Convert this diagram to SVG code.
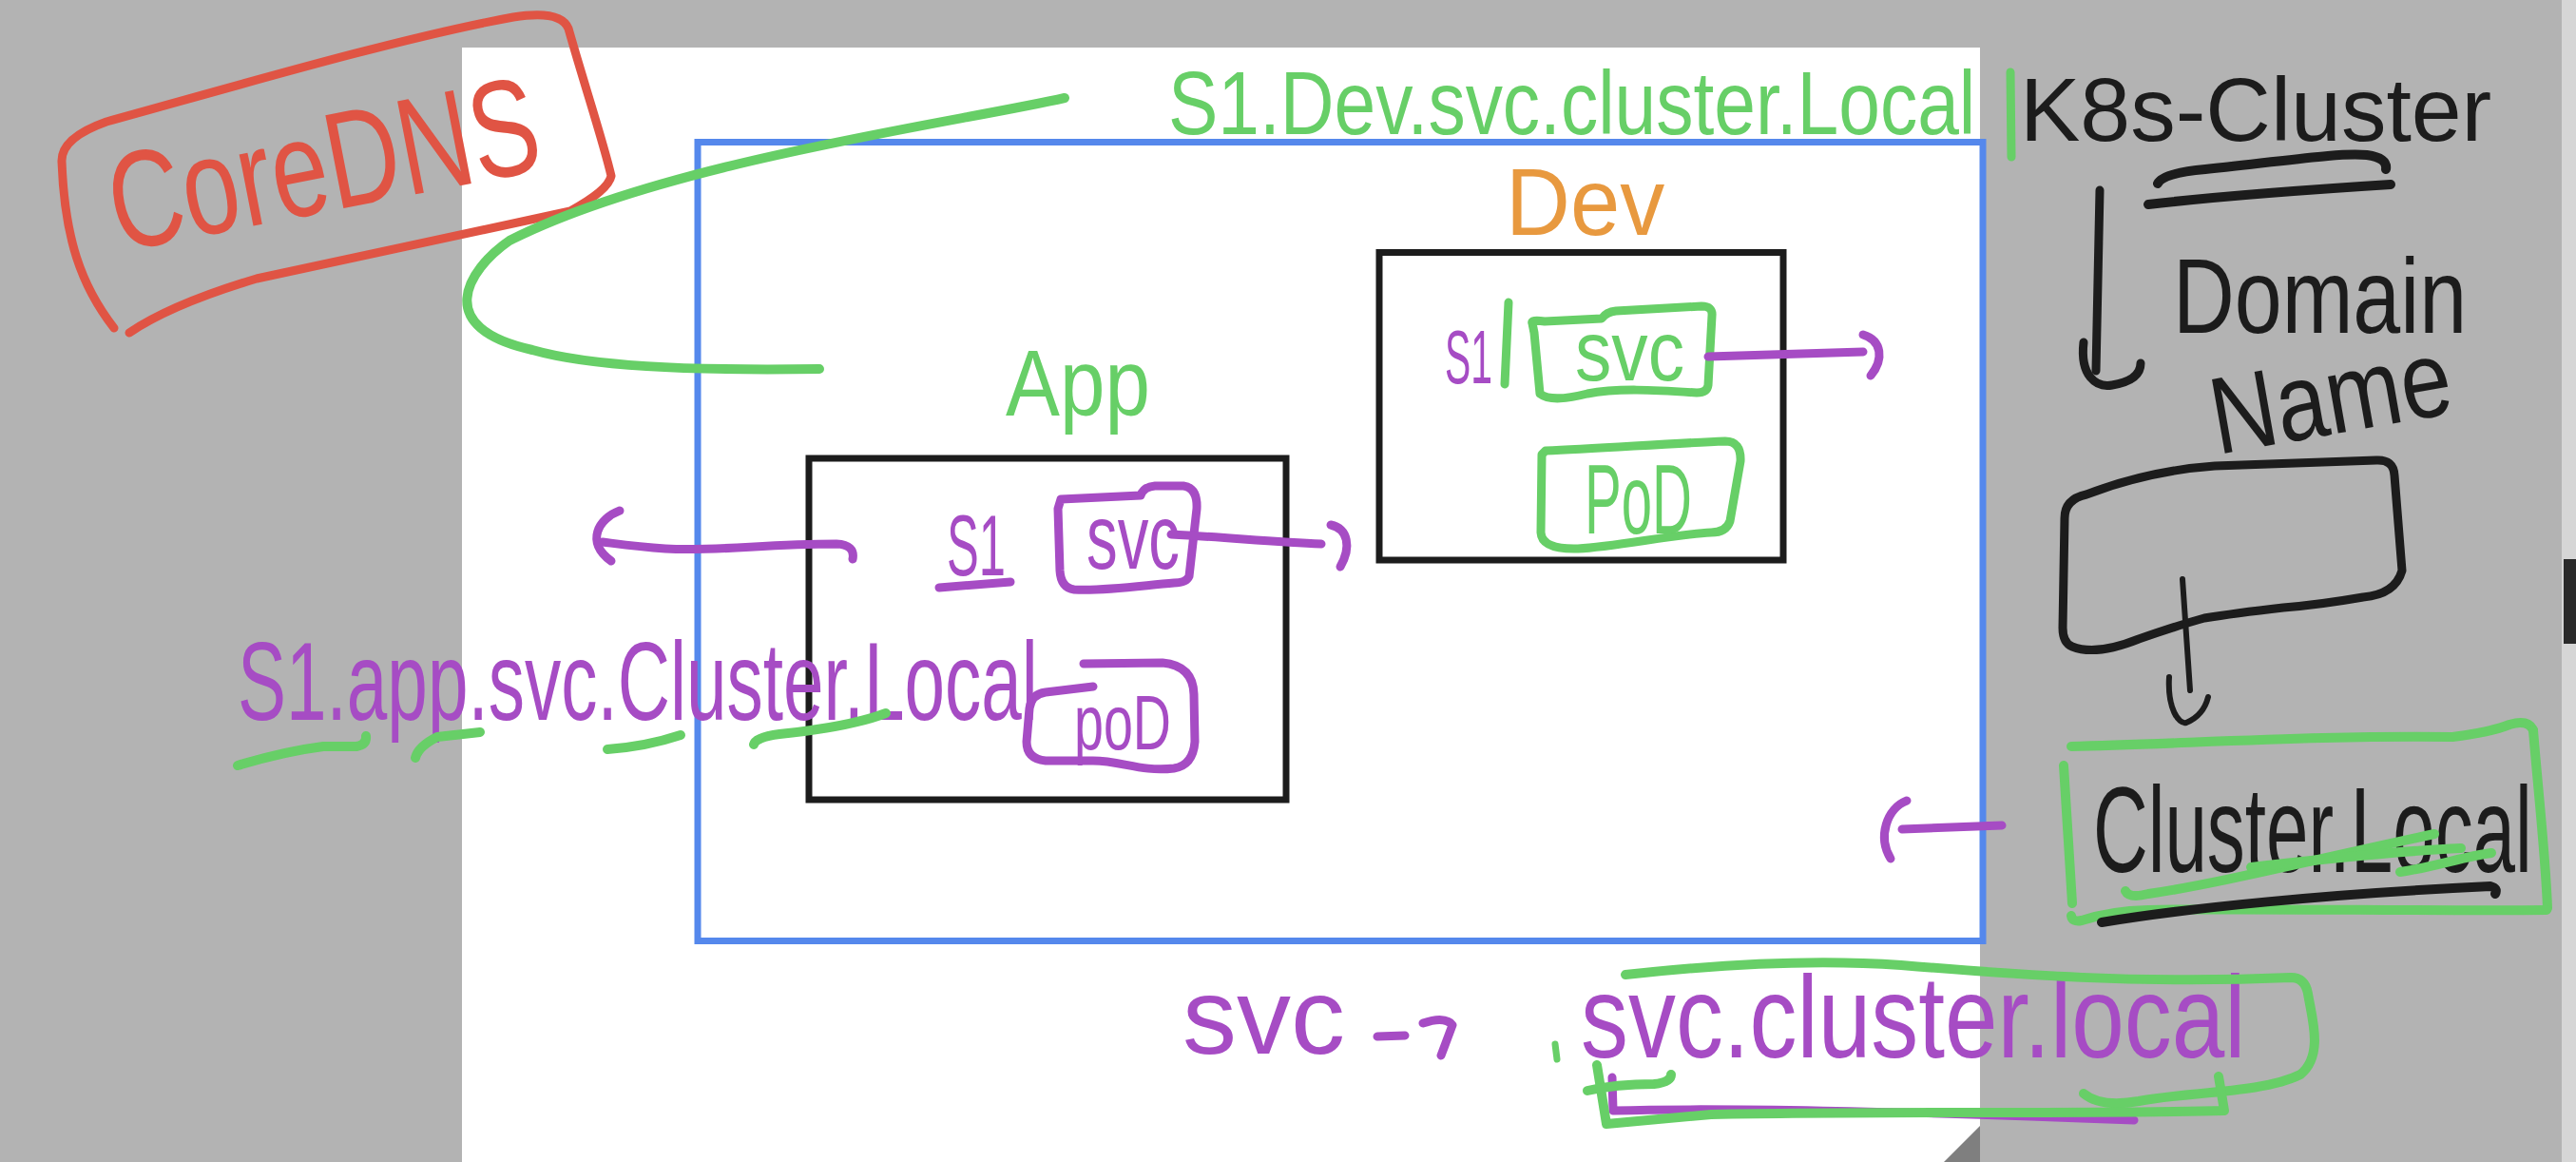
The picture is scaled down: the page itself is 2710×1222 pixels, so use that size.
<svg xmlns="http://www.w3.org/2000/svg" width="2710" height="1222" viewBox="0 0 2710 1222">
<style>
.s{fill:none;stroke-linecap:round;stroke-linejoin:round}
.g{stroke:#67cf67}.p{stroke:#a64cc4}.k{stroke:#1c1c1c}.r{stroke:#e05444}.o{stroke:#e8993f}
.w9{stroke-width:9}.w7{stroke-width:7}.w10{stroke-width:10}.w6{stroke-width:6}
.t{font-family:"Liberation Sans",Arial,sans-serif}
.tg{fill:#67cf67}.tp{fill:#a64cc4}.tk{fill:#1c1c1c}.tr{fill:#e05444}.to{fill:#e8993f}
.box{fill:none;stroke:#1c1c1c;stroke-width:7}
</style>
<rect x="0" y="0" width="2710" height="1222" fill="#b3b3b3"/>
<rect x="486" y="50" width="1597" height="1172" fill="#ffffff"/>
<polygon points="2045,1222 2083,1184 2083,1222" fill="#7f7f7f"/>
<rect x="2695" y="0" width="15" height="1222" fill="#d6d6d6"/>
<rect x="2697" y="588" width="13" height="89" fill="#2a2a2a"/>

<g id="coredns">
<path class="s r w9" d="M120,345 C85,300 68,250 65,170 Q64,145 112,128 C250,90 420,40 540,18 Q590,10 598,30 C615,90 635,150 643,185 Q640,200 600,222 L270,293 Q180,320 136,350"/>
<text class="t tr" transform="translate(125,265) rotate(-11) scale(1,1.355)" font-size="107">CoreDNS</text>
</g>

<g id="k8s-cluster">
<rect x="734" y="149.5" width="1352" height="840" fill="none" stroke="#5588ec" stroke-width="7"/>
<text class="t tg" transform="translate(1229,141) scale(1,1.21)" font-size="78.5">S1.Dev.svc.cluster.Local</text>
<path class="s g w9" d="M2115,76 L2116,165"/>
</g>

<g id="app">
<rect class="box" x="851" y="482" width="502" height="359"/>
<text class="t tg" transform="translate(1058,437) scale(1,1.15)" font-size="85.4">App</text>
<text class="t tp" transform="translate(996,605) scale(1,1.78)" font-size="50.7">S1</text>
<path class="s p w9" d="M988,618 L1063,612"/>
<path class="s p w9" d="M1116,525 L1200,521 Q1203,512 1215,511 L1245,511 Q1260,513 1259,535 L1251,606 Q1248,613 1235,613 C1200,616 1160,622 1130,620 Q1116,618 1115,600 L1113,535 Z"/>
<text class="t tp" transform="translate(1143,598) scale(1,1.47)" font-size="65.3">svc</text>
<path class="s p w9" d="M1140,698 L1223,697 Q1255,700 1256,730 L1257,780 Q1255,805 1235,808 C1200,812 1180,800 1150,800 L1100,800 Q1080,798 1080,780 L1083,745 Q1085,730 1100,728 L1150,722"/>
<text class="t tp" transform="translate(1130,788) scale(1,1.47)" font-size="55.6">poD</text>
<text class="t tp" transform="translate(250,757) scale(1,1.53)" font-size="76.5">S1.app.svc.Cluster.Local</text>
<path class="s g w10" d="M250,805 Q300,790 340,785 L375,785 Q386,783 385,774"/>
<path class="s g w10" d="M437,797 Q440,785 460,775 L505,770"/>
<path class="s g w10" d="M639,788 Q680,785 716,773"/>
<path class="s g w10" d="M793,783 Q795,775 820,772 C860,768 900,762 932,750"/>
</g>

<g id="dev">
<rect class="box" x="1451" y="265.5" width="425" height="323.5"/>
<text class="t to" transform="translate(1584,247) scale(1,1.06)" font-size="94">Dev</text>
<text class="t tp" transform="translate(1520,403) scale(1,1.96)" font-size="40.9">S1</text>
<path class="s g w9" d="M1587,318 L1583,404"/>
<path class="s g w9" d="M1612,340 Q1610,336 1625,338 L1685,335 Q1690,328 1700,327 L1790,322 Q1802,322 1801,332 L1797,405 Q1796,413 1785,413 C1740,410 1700,408 1670,414 C1650,419 1630,422 1620,414 L1614,350 Z"/>
<text class="t tg" transform="translate(1657,400) scale(1,1.17)" font-size="76.7">svc</text>
<path class="s g w9" d="M1626,474 C1680,472 1760,466 1815,464 Q1832,464 1831,485 L1820,548 Q1816,560 1800,560 C1760,562 1700,575 1660,577 Q1622,578 1621,560 L1622,478 Z"/>
<text class="t tg" transform="translate(1667,561) scale(1,1.79)" font-size="58.1">PoD</text>
</g>

<g id="legend">
<text class="t tk" x="2125" y="148" font-size="95">K8s-Cluster</text>
<path class="s k w10" d="M2270,193 Q2275,182 2320,178 C2400,170 2460,160 2490,163 Q2512,166 2510,178"/>
<path class="s k w10" d="M2260,215 C2320,208 2420,200 2515,194"/>
<text class="t tk" transform="translate(2286,350) scale(1,1.23)" font-size="89.7">Domain</text>
<text class="t tk" transform="translate(2333,478) rotate(-10) scale(1,1.2)" font-size="95.6">Name</text>
<path class="s k w9" d="M2172,545 Q2172,525 2195,520 Q2260,495 2330,490 L2500,484 Q2518,483 2519,500 L2527,600 Q2520,625 2486,628 Q2440,636 2402,639 Q2350,645 2319,650 Q2290,658 2250,672 Q2205,690 2180,680 Q2170,676 2170,660 Z"/>
</g>

<g id="cluster-local">
<path class="s g w10" d="M2179,785 C2300,782 2450,773 2580,775 Q2620,770 2640,762 Q2660,756 2665,768"/>
<path class="s g w10" d="M2665,768 C2670,830 2678,900 2680,955"/>
<path class="s g w10" d="M2679,957 C2550,958 2350,955 2260,957 Q2220,958 2190,968 Q2180,970 2179,963"/>
<path class="s g w10" d="M2171,805 L2180,950"/>
<text class="t tk" transform="translate(2202,917) scale(1,1.6)" font-size="79.9">Cluster.Local</text>
<path class="s g w10" d="M2236,937 Q2240,945 2260,940 C2330,930 2430,905 2561,877"/>
<path class="s g w10" d="M2368,912 C2430,905 2520,895 2589,892"/>
<path class="s g w10" d="M2525,917 C2560,912 2595,900 2621,897"/>
<path class="s k w10" d="M2211,970 C2300,955 2450,940 2620,932 Q2628,934 2625,940"/>
</g>

<g id="svc-domain">
<text class="t tp" x="1244" y="1108" font-size="114">svc</text>
<path class="s p w9" d="M1696,1133 L1697,1168 C1800,1165 2000,1168 2245,1178"/>
<text class="t tp" transform="translate(1663,1112) scale(1,1.22)" font-size="99.9">svc.cluster.local</text>
<path class="s g w10" d="M1710,1025 C1800,1015 1900,1008 2000,1015 C2120,1025 2250,1035 2410,1028 Q2425,1028 2428,1045 C2432,1070 2445,1110 2420,1130 C2380,1150 2300,1148 2250,1158 Q2210,1165 2192,1150"/>
<path class="s g w10" d="M2334,1132 L2340,1168 C2200,1172 2000,1168 1800,1172 L1690,1182 L1680,1120"/>
<path class="s g w10" d="M1670,1147 Q1700,1140 1740,1140 Q1758,1138 1758,1130"/>
<path class="s g w7" d="M1636,1098 L1638,1114"/>
</g>

<g id="connectors">
<path class="s g w10" d="M1120,103 C1000,130 700,170 536,253 C490,285 455,345 560,368 C620,385 720,390 862,388"/>
<path class="s p w9" d="M1232,562 C1290,565 1340,570 1390,572"/>
<path class="s p w9" d="M1400,552 C1418,556 1422,575 1410,596"/>
<path class="s p w9" d="M897,588 Q900,573 880,572 C800,572 760,580 700,577 C670,575 650,572 634,570"/>
<path class="s p w9" d="M652,537 C630,545 615,570 643,590"/>
<path class="s p w9" d="M1797,375 L1960,370"/>
<path class="s p w9" d="M1960,352 C1980,358 1982,378 1968,395"/>
<path class="s p w9" d="M2106,868 L2001,872"/>
<path class="s p w9" d="M2006,842 C1985,850 1975,880 1989,903"/>
<path class="s p w9" d="M1449,1090 L1478,1089"/>
<path class="s p w9" d="M1497,1076 Q1520,1068 1528,1078 L1516,1110"/>
<path class="s k w9" d="M2209,200 L2205,390"/>
<path class="s k w9" d="M2192,360 C2188,395 2205,408 2222,405 C2240,402 2252,395 2252,382"/>
<path class="s k w6" d="M2296,609 L2304,726"/>
<path class="s k w6" d="M2282,712 C2280,745 2292,762 2300,760 C2312,755 2320,745 2323,733"/>
</g>
</svg>
